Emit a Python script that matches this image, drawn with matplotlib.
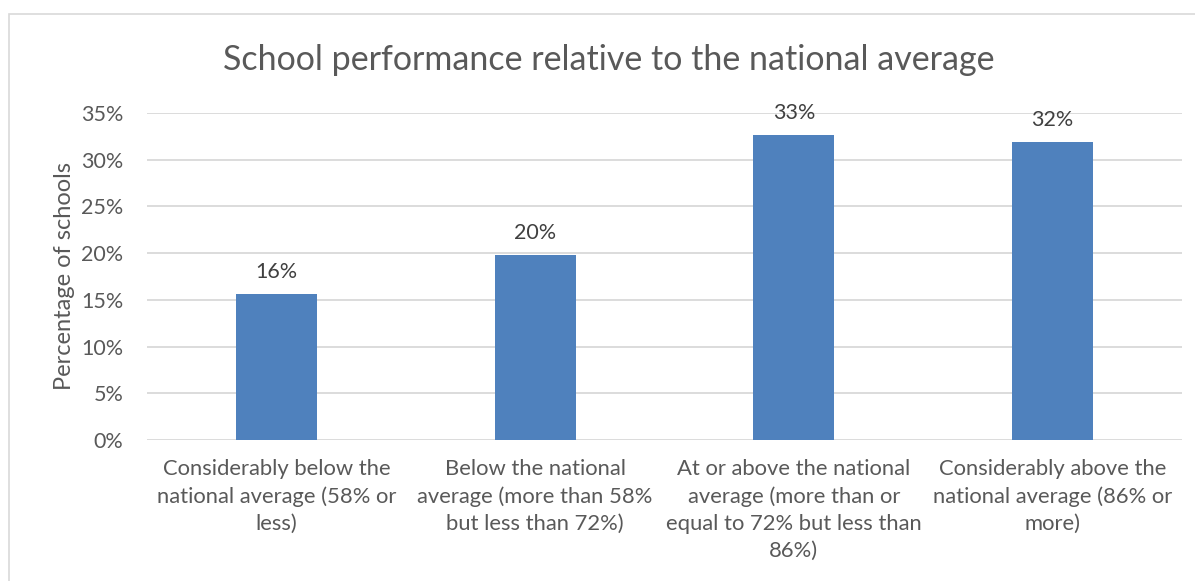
import numpy as np
import matplotlib
matplotlib.use("Agg")
import matplotlib.pyplot as plt
from matplotlib.patches import Rectangle

# ---- data
categories = [
    "Considerably below the\nnational average (58% or\nless)",
    "Below the national\naverage (more than 58%\nbut less than 72%)",
    "At or above the national\naverage (more than or\nequal to 72% but less than\n86%)",
    "Considerably above the\nnational average (86% or\nmore)",
]
share_pct = [15.6, 19.8, 32.6, 31.9]
yticks_pct = [0, 5, 10, 15, 20, 25, 30, 35]

title = "School performance relative to the national average"
ylabel = "Percentage of schools"

# ---- style
plt.rcParams['font.family'] = ['Lato', 'DejaVu Sans']
c_bar  = "#4F81BD"
c_txt  = "#595959"
c_grid = "#D9D9D9"

fig = plt.figure(figsize=(11.95, 5.81), dpi=100)
ax = fig.add_axes([147/1195, 1-440/581, (1182-147)/1195, (440-113)/581])

# chart frame (runs off the right/bottom edge)
fig.patches.append(Rectangle((9/1195, -0.1), 1.2, 1-14/581+0.1,
                             transform=fig.transFigure, fill=False,
                             edgecolor=c_grid, lw=1.2))

x = np.arange(len(categories))
ax.bar(x, share_pct, width=0.313, color=c_bar, zorder=3)

for xi, v in zip(x, share_pct):
    ax.text(xi, v + 1.3, f"{v:.0f}%", ha='center', va='bottom',
            fontsize=15.5, color="#404040")

ax.set_xlim(-0.5, len(categories) - 0.5)
ax.set_ylim(0, 35)
ax.set_yticks(yticks_pct)
ax.set_yticklabels([f"{t}%" for t in yticks_pct], fontsize=15.5, color=c_txt)
ax.set_xticks(x)
ax.set_xticklabels(categories, fontsize=15.8, color=c_txt, linespacing=1.42)
ax.tick_params(axis='x', length=0, pad=14)
ax.tick_params(axis='y', length=0, pad=17)
ax.grid(axis='y', color=c_grid, lw=1.3, zorder=0)
for s in ax.spines.values():
    s.set_visible(False)

ax.set_ylabel(ylabel, fontsize=17, color=c_txt, labelpad=4)
fig.text(609/1195, 1-60/581, title, ha='center', va='center',
         fontsize=24.5, color=c_txt)

fig.savefig("out.png", dpi=100)
